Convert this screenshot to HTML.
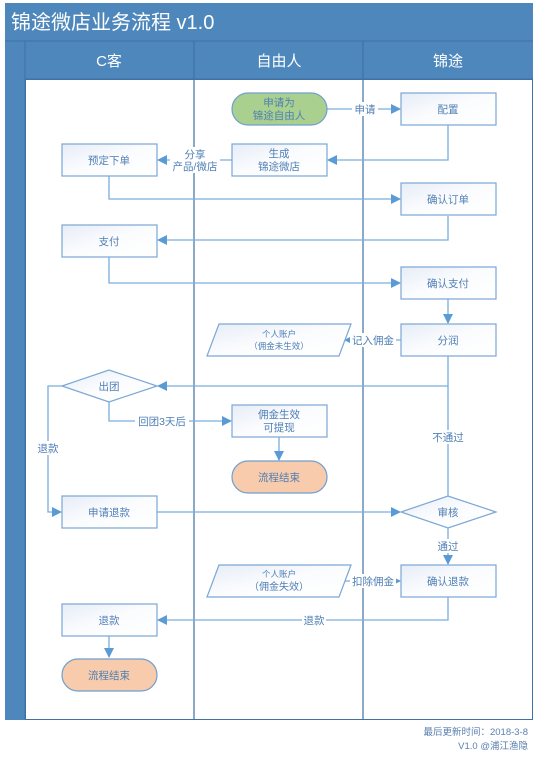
<!DOCTYPE html>
<html><head><meta charset="utf-8"><style>
body{margin:0;background:#fff;width:539px;height:758px;overflow:hidden}
svg text{font-family:"Liberation Sans","Noto Sans CJK SC",sans-serif}
</style></head><body>
<svg width="539" height="758" viewBox="0 0 539 758" xmlns="http://www.w3.org/2000/svg">
<defs>
<linearGradient id="g" x1="0" y1="0" x2="1" y2="1"><stop offset="0" stop-color="#e6edf7"/><stop offset="0.5" stop-color="#fbfcfe"/><stop offset="1" stop-color="#ffffff"/></linearGradient>
<marker id="a" markerWidth="10" markerHeight="10" refX="9" refY="5" orient="auto" markerUnits="userSpaceOnUse"><path d="M0,0 L10,5 L0,10 z" fill="#5b9bd5"/></marker>
</defs>
<rect x="5" y="3" width="528" height="717" fill="#4e87bb"/>
<rect x="25" y="79" width="508" height="640" fill="#fff"/>
<line x1="5" y1="41" x2="533" y2="41" stroke="#3f72a3" stroke-width="1"/>
<line x1="25" y1="41" x2="25" y2="719" stroke="#3f72a3"/>
<line x1="25" y1="79" x2="533" y2="79" stroke="#3f72a3"/>
<line x1="194" y1="41" x2="194" y2="719" stroke="#3f72a3" stroke-width="1.2"/>
<line x1="363" y1="41" x2="363" y2="719" stroke="#3f72a3" stroke-width="1.2"/>
<rect x="25.5" y="79.5" width="507" height="640" fill="none" stroke="#3f72a3"/>
<text x="11" y="29" font-size="20" fill="#fff">锦途微店业务流程 v1.0</text>
<text x="109" y="66" font-size="15" fill="#fff" text-anchor="middle">C客</text>
<text x="279" y="66" font-size="15" fill="#fff" text-anchor="middle">自由人</text>
<text x="448" y="66" font-size="15" fill="#fff" text-anchor="middle">锦途</text>

<g stroke="#7aaedf" stroke-width="1.3" fill="none">
<path d="M327,109 L400,109" marker-end="url(#a)"/>
<path d="M448,125 L448,160 L328,160" marker-end="url(#a)"/>
<path d="M232,160 L158,160" marker-end="url(#a)"/>
<path d="M109,176 L109,199 L400,199" marker-end="url(#a)"/>
<path d="M448,216 L448,240 L158,240" marker-end="url(#a)"/>
<path d="M109,257 L109,283 L400,283" marker-end="url(#a)"/>
<path d="M448,299 L448,323" marker-end="url(#a)"/>
<path d="M401,340 L345,340" marker-end="url(#a)"/>
<path d="M448,356 L448,386 L158,386" marker-end="url(#a)"/>
<path d="M448,386 L448,496"/>
<path d="M109,401 L109,421 L231,421" marker-end="url(#a)"/>
<path d="M62,386 L48,386 L48,512 L61,512" marker-end="url(#a)"/>
<path d="M157,512 L400,512" marker-end="url(#a)"/>
<path d="M448,528 L448,564" marker-end="url(#a)"/>
<path d="M345,581 L400,581" marker-end="url(#a)"/>
<path d="M448,597 L448,620 L158,620" marker-end="url(#a)"/>
<path d="M109,636 L109,657" marker-end="url(#a)"/>
<path d="M279,437 L279,460" marker-end="url(#a)"/>
</g>

<g stroke="#7ba7d4" stroke-width="1.2" fill="url(#g)">
<rect x="62" y="144" width="95" height="32"/>
<rect x="62" y="225" width="95" height="32"/>
<polygon points="62,386 109,370 157,386 109,402"/>
<rect x="62" y="496" width="95" height="32"/>
<rect x="62" y="604" width="95" height="32"/>
<rect x="232" y="144" width="95" height="32"/>
<polygon points="219,324 351,324 339,356 207,356"/>
<rect x="232" y="405" width="95" height="32"/>
<polygon points="219,565 351,565 339,597 207,597"/>
<rect x="401" y="93" width="95" height="32"/>
<rect x="401" y="183" width="95" height="32"/>
<rect x="401" y="267" width="95" height="32"/>
<rect x="401" y="324" width="95" height="32"/>
<polygon points="401,512 448,496 496,512 448,528"/>
<rect x="401" y="565" width="95" height="32"/>
</g>
<rect x="232" y="93" width="95" height="32" rx="16" fill="#a9d08e" stroke="#6f9fcf" stroke-width="1.2"/>
<rect x="232" y="461" width="95" height="32" rx="16" fill="#f7cbac" stroke="#6f9fcf" stroke-width="1.2"/>
<rect x="62" y="659" width="95" height="32" rx="16" fill="#f7cbac" stroke="#6f9fcf" stroke-width="1.2"/>

<g fill="#4f7fb5" font-size="10.5" text-anchor="middle">
<text x="279" y="106">申请为</text><text x="279" y="119">锦途自由人</text>
<text x="448" y="113">配置</text>
<text x="109" y="164">预定下单</text>
<text x="279" y="157">生成</text><text x="279" y="170">锦途微店</text>
<text x="448" y="203">确认订单</text>
<text x="109" y="245">支付</text>
<text x="448" y="287">确认支付</text>
<text x="448" y="344">分润</text>
<text x="279" y="337" font-size="8.5">个人账户</text><text x="279" y="349" font-size="8.5">（佣金未生效）</text>
<text x="109" y="390">出团</text>
<text x="279" y="418">佣金生效</text><text x="279" y="431">可提现</text>
<text x="279" y="481">流程结束</text>
<text x="109" y="516">申请退款</text>
<text x="448" y="516">审核</text>
<text x="279" y="577" font-size="8.5">个人账户</text><text x="279" y="590" font-size="10">（佣金失效）</text>
<text x="448" y="585">确认退款</text>
<text x="109" y="624">退款</text>
<text x="109" y="679">流程结束</text>
</g>

<g fill="#4f7fb5" font-size="10.5" text-anchor="middle">
<rect x="352" y="102" width="26" height="14" fill="#fff"/><text x="365" y="113">申请</text>
<rect x="170" y="147" width="50" height="26" fill="#fff"/><text x="195" y="158">分享</text><text x="195" y="170">产品/微店</text>
<rect x="350" y="333" width="46" height="14" fill="#fff"/><text x="373" y="344">记入佣金</text>
<rect x="135" y="414" width="54" height="14" fill="#fff"/><text x="162" y="425">回团3天后</text>
<rect x="432" y="430" width="32" height="14" fill="#fff"/><text x="448" y="441">不通过</text>
<rect x="36" y="441" width="24" height="14" fill="#fff"/><text x="48" y="452">退款</text>
<rect x="436" y="539" width="24" height="14" fill="#fff"/><text x="448" y="550">通过</text>
<rect x="350" y="574" width="46" height="14" fill="#fff"/><text x="373" y="585">扣除佣金</text>
<rect x="302" y="613" width="24" height="14" fill="#fff"/><text x="314" y="624">退款</text>
</g>
<g fill="#5a7fae" font-size="9.5" text-anchor="end">
<text x="528" y="735">最后更新时间：2018-3-8</text>
<text x="528" y="749">V1.0 @浦江渔隐</text>
</g>
</svg>
</body></html>
